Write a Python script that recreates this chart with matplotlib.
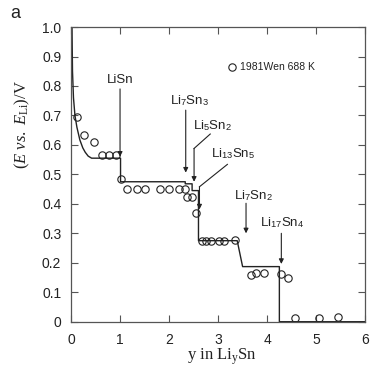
import numpy as np
import matplotlib
matplotlib.use('Agg')
import matplotlib.pyplot as plt

plt.rcParams['font.family'] = ['Liberation Sans', 'DejaVu Sans']
plt.rcParams['mathtext.fontset'] = 'custom'
plt.rcParams['mathtext.rm'] = 'Liberation Serif'
plt.rcParams['mathtext.it'] = 'Liberation Serif:italic'
plt.rcParams['mathtext.sf'] = 'Liberation Sans'

# measured points (1981Wen 688 K)
y_meas = [0.13, 0.26, 0.46, 0.63, 0.78, 0.91, 1.01,
          1.14, 1.34, 1.51, 1.82, 1.99, 2.20, 2.32, 2.36, 2.47, 2.54,
          2.67, 2.75, 2.86, 3.01, 3.12, 3.35,
          3.67, 3.78, 3.94, 4.28, 4.43,
          4.56, 5.05, 5.45]
e_meas = [0.694, 0.634, 0.611, 0.565, 0.565, 0.565, 0.484,
          0.451, 0.451, 0.451, 0.451, 0.451, 0.451, 0.451, 0.424, 0.424, 0.368,
          0.275, 0.275, 0.275, 0.275, 0.275, 0.278,
          0.157, 0.164, 0.164, 0.162, 0.147,
          0.011, 0.011, 0.017]

# calculated curve
y_calc = [0.02, 0.03, 0.05, 0.08, 0.12, 0.18, 0.24, 0.29, 0.35, 0.42,
          1.01, 1.01, 2.33, 2.33, 2.47, 2.47, 2.60, 2.60,
          3.39, 3.50, 4.25, 4.25, 6.0]
e_calc = [1.0, 0.85, 0.76, 0.70, 0.66, 0.617, 0.59, 0.575, 0.562, 0.555,
          0.555, 0.475, 0.475, 0.468, 0.468, 0.445, 0.445, 0.275,
          0.275, 0.187, 0.187, 0.0, 0.0]

x_ticks = [0, 1, 2, 3, 4, 5, 6]
e_ticks = [0, 0.1, 0.2, 0.3, 0.4, 0.5, 0.6, 0.7, 0.8, 0.9, 1.0]
e_ticklabels = ['0', '0.1', '0.2', '0.3', '0.4', '0.5', '0.6', '0.7', '0.8', '0.9', '1.0']

ink = '#222222'

fig = plt.figure(figsize=(3.86, 3.81), dpi=100)
ax = fig.add_axes([0.184, 0.1556, 0.762, 0.7734])

ax.plot(y_calc, e_calc, color=ink, lw=1.0)
ax.plot(y_meas, e_meas, 'o', mfc='none', mec=ink, mew=0.8, ms=5.3,
        label='1981Wen 688 K', clip_on=False)

ax.set_xlim(0, 6)
ax.set_ylim(0, 1.0)
ax.set_xticks(x_ticks)
ax.set_yticks(e_ticks)
ax.set_yticklabels(e_ticklabels)
ax.tick_params(direction='in', length=5, width=0.8, colors='#555555',
               labelcolor=ink, labelsize=10, top=True, right=True)
ax.tick_params(axis='x', pad=8)
ax.tick_params(axis='y', pad=7)
for s in ax.spines.values():
    s.set_color('#555555')
    s.set_linewidth(0.9)

arr = dict(arrowstyle='-|>', lw=0.8, color=ink, mutation_scale=7,
           shrinkA=0, shrinkB=0)

def arrow(x, y0, y1):
    ax.annotate('', xy=(x, y1), xytext=(x, y0), arrowprops=arr)

# LiSn
ax.text(1.0, 0.82, 'LiSn', ha='center', va='center', fontsize=9.5, color=ink)
arrow(1.0, 0.79, 0.56)
# Li7Sn3
ax.text(2.41, 0.752, r'Li$_{\mathsf{7}}$Sn$_{\mathsf{3}}$', ha='center', va='center',
        fontsize=9.5, color=ink)
arrow(2.34, 0.718, 0.506)
# Li5Sn2
ax.text(2.89, 0.667, r'Li$_{\mathsf{5}}$Sn$_{\mathsf{2}}$', ha='center', va='center',
        fontsize=9.5, color=ink)
ax.plot([2.84, 2.51], [0.637, 0.588], color=ink, lw=0.8)
arrow(2.51, 0.588, 0.475)
# Li13Sn5
ax.text(3.31, 0.571, r'Li$_{\mathsf{13}}$Sn$_{\mathsf{5}}$', ha='center', va='center',
        fontsize=9.5, color=ink)
ax.plot([3.19, 2.62], [0.534, 0.458], color=ink, lw=0.8)
arrow(2.62, 0.458, 0.381)
# Li7Sn2
ax.text(3.73, 0.427, r'Li$_{\mathsf{7}}$Sn$_{\mathsf{2}}$', ha='center', va='center',
        fontsize=9.5, color=ink)
arrow(3.57, 0.402, 0.30)
# Li17Sn4
ax.text(4.31, 0.336, r'Li$_{\mathsf{17}}$Sn$_{\mathsf{4}}$', ha='center', va='center',
        fontsize=9.5, color=ink)
arrow(4.29, 0.300, 0.196)

ax.legend(loc='center left', bbox_to_anchor=(0.51, 0.863), frameon=False,
          fontsize=7.5, handletextpad=0.1, handlelength=1.2, borderpad=0,
          labelcolor=ink)

fig.text(0.057, 0.672, r'$(E\ \mathit{vs.}\ E_{\mathrm{Li}})/\mathrm{V}$',
         rotation=90, ha='center', va='center', fontsize=12, color=ink)
fig.text(0.574, 0.063, r'y in Li$_{\mathrm{y}}$Sn', ha='center', va='center',
         fontsize=12, color=ink, family='Liberation Serif')
fig.text(0.027, 0.953, 'a', ha='left', va='baseline', fontsize=13, color=ink)

fig.savefig('out.png', dpi=100)
